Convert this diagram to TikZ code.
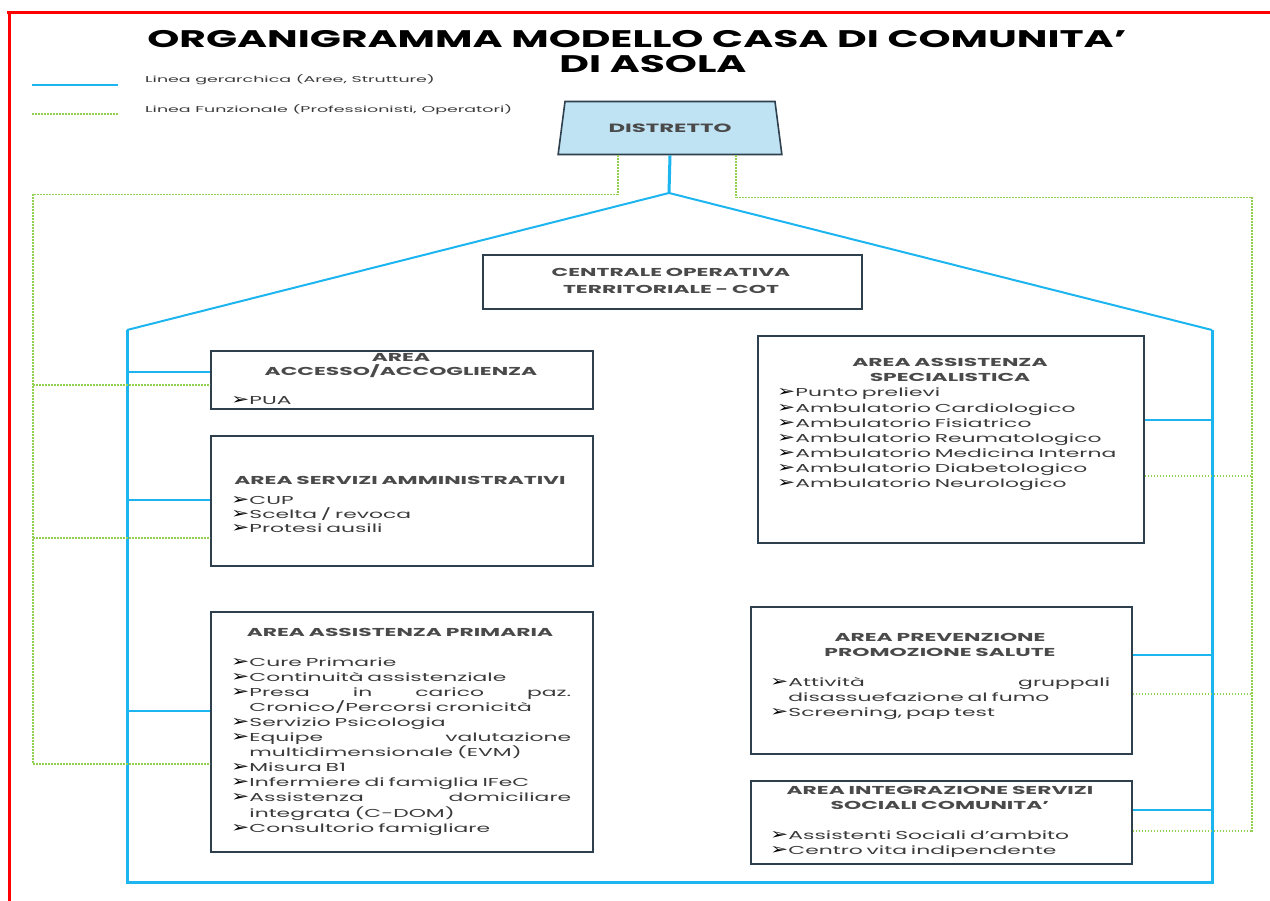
\documentclass[tikz,border=0pt]{standalone}
\usepackage{fontspec}
\setmainfont{Poppins}
\newfontfamily\wide{Poppins}[FakeStretch=1.9]
\newfontfamily\widetitle{Poppins}[FakeStretch=1.7]
\newfontfamily\widelegend{Poppins}[FakeStretch=2.05]
\newfontfamily\bulf{DejaVu Sans}[FakeStretch=1.45]
\usetikzlibrary{shapes.geometric,calc}
\definecolor{hblue}{HTML}{1CB5F0}
\definecolor{fgreen}{HTML}{92D050}
\definecolor{boxc}{HTML}{2E3F4D}
\definecolor{distfill}{HTML}{BFE3F3}
\definecolor{txt}{HTML}{3A3A3A}
\definecolor{ttlc}{HTML}{4A4A4A}
\newcommand{\bl}{{\bulf\color{black}\fontsize{15}{15}\selectfont ➢}}
\newcommand{\nb}{\phantom{\bl}}
\tikzset{
  area/.style={draw=boxc, line width=1.6pt, inner sep=0pt, anchor=north west},
  hier/.style={draw=hblue, line width=3pt},
  hierthin/.style={draw=hblue, line width=2pt},
  func/.style={draw=fgreen, line width=1.3pt, dash pattern=on 1.8pt off 1.2pt},
  ttl/.style={font=\wide\bfseries\fontsize{11.5}{15}\selectfont, text=ttlc, inner sep=0pt, anchor=base, align=center, text width=380pt},
  item/.style={font=\wide\fontsize{11.5}{15.1}\selectfont, text=txt, inner sep=0pt, anchor=base west, align=left, text width=370pt},
  legtext/.style={font=\widelegend\fontsize{8.5}{9}\selectfont, text=txt, inner sep=0pt, anchor=base west},
}
\begin{document}
\begin{tikzpicture}[x=1pt,y=-1pt]
\useasboundingbox (0,0) rectangle (1270,901);
% red frame
\draw[red, line width=3pt] (7,13) -- (1270,13);
\draw[red, line width=3pt] (9,12) -- (9,901);
% title
\node[font=\widetitle\bfseries\fontsize{24}{26}\selectfont, inner sep=0pt, anchor=base] (t1) at (637,48) {ORGANIGRAMMA MODELLO CASA DI COMUNITA’};
\node[font=\widetitle\bfseries\fontsize{24}{26}\selectfont, inner sep=0pt, anchor=base] (t2) at (653,73) {DI ASOLA};
% legend
\coordinate (lb1) at (32,85); \coordinate (lb2) at (118,85);
\coordinate (lg1) at (32,114); \coordinate (lg2) at (118,114);
\draw[hierthin] (lb1) -- (lb2);
\draw[func] (lg1) -- (lg2);
\node[legtext] (leg1) at (145,83) {Linea gerarchica (Aree, Strutture)};
\node[legtext] (leg2) at (145,113) {Linea Funzionale (Professionisti, Operatori)};
% distretto
\node[trapezium, trapezium left angle=65, trapezium right angle=65, trapezium stretches=true,
  minimum width=224pt, minimum height=53pt, draw=boxc, line width=1.6pt, fill=distfill,
  font=\wide\bfseries\fontsize{12}{12}\selectfont, text=ttlc, inner sep=0pt] (dist) at (670,128) {DISTRETTO};
% frame (hierarchy)
\coordinate (apex) at (669,193);
\coordinate (fl) at (127,330);
\coordinate (fr) at (1212,330);
\coordinate (bl) at (127,882);
\coordinate (br) at (1212,882);
\draw[hier] (dist.south) -- (apex);
\draw[hierthin] (fl) -- (apex) -- (fr);
\draw[hier, line join=miter] (fl) -- (bl) -- (br) -- (fr);
% functional lines
\coordinate (gl) at (33,193);
\coordinate (gr) at (1252,196);
\draw[func] ($(dist.south)+(-52,0)$) -- ++(0,39) -| (33,764);
\draw[func] ($(dist.south)+(66,0)$) -- ++(0,42) -| (1252,832);
% COT
\node[area, minimum width=379pt, minimum height=54pt] (cot) at (482,254) {};
\node[ttl] (cott) at (671,277) {CENTRALE OPERATIVA\\[2pt]TERRITORIALE - COT};
% left boxes
\node[area, minimum width=382pt, minimum height=58pt] (acc) at (210,350) {};
\node[area, minimum width=382pt, minimum height=130pt] (amm) at (210,435) {};
\node[area, minimum width=382pt, minimum height=240pt] (pri) at (210,611) {};
% right boxes
\node[area, minimum width=386pt, minimum height=207pt] (spe) at (757,335) {};
\node[area, minimum width=381pt, minimum height=147pt] (pre) at (750,606) {};
\node[area, minimum width=381pt, minimum height=83pt] (soc) at (750,780) {};
% texts left
\node[ttl] (acct) at (401,362) {AREA\\[-1pt]ACCESSO/ACCOGLIENZA};
\node[item] (acci) at (231,405) {\bl PUA};
\node[ttl] (ammt) at (400,484) {AREA SERVIZI AMMINISTRATIVI};
\node[item] (ammi) at (231,504) {\bl CUP\\[-1pt]\bl Scelta / revoca\\[-1pt]\bl Protesi ausili};
\node[ttl] (prit) at (400,636) {AREA ASSISTENZA PRIMARIA};
\node[item] (prii) at (231,666) {\bl Cure Primarie\\
\bl Continuità assistenziale\\
\makebox[340pt][s]{\bl Presa\hfill in\hfill carico\hfill paz.}\\
\nb Cronico/Percorsi cronicità\\
\bl Servizio Psicologia\\
\makebox[340pt][s]{\bl Equipe\hfill valutazione}\\
\nb multidimensionale (EVM)\\
\bl Misura B1\\
\bl Infermiere di famiglia IFeC\\
\makebox[340pt][s]{\bl Assistenza\hfill domiciliare}\\
\nb integrata (C-DOM)\\
\bl Consultorio famigliare};
% texts right
\node[ttl] (spet) at (950,367) {AREA ASSISTENZA\\SPECIALISTICA};
\node[item] (spei) at (777,397) {\bl Punto prelievi\\
\bl Ambulatorio Cardiologico\\
\bl Ambulatorio Fisiatrico\\
\bl Ambulatorio Reumatologico\\
\bl Ambulatorio Medicina Interna\\
\bl Ambulatorio Diabetologico\\
\bl Ambulatorio Neurologico};
\node[ttl] (pret) at (940,641) {AREA PREVENZIONE\\PROMOZIONE SALUTE};
\node[item] (prei) at (770,686) {\makebox[340pt][s]{\bl Attività\hfill gruppali}\\
\nb disassuefazione al fumo\\
\bl Screening, pap test};
\node[ttl] (soct) at (940,794) {AREA INTEGRAZIONE SERVIZI\\SOCIALI COMUNITA’};
\node[item] (soci) at (770,839) {\bl Assistenti Sociali d’ambito\\[0.4pt]
\bl Centro vita indipendente};
% hierarchical connectors
\draw[hierthin] (fl |- 0,372) -- (acc.west |- 0,372);
\draw[hierthin] (fl |- 0,500) -- (amm.west |- 0,500);
\draw[hierthin] (fl |- 0,711) -- (pri.west |- 0,711);
\draw[hierthin] (spe.east |- 0,420) -- (fr |- 0,420);
\draw[hierthin] (pre.east |- 0,655) -- (fr |- 0,655);
\draw[hierthin] (soc.east |- 0,810) -- (fr |- 0,810);
% functional connectors
\draw[func] (gl |- 0,385) -- (acc.west |- 0,385);
\draw[func] (gl |- 0,538) -- (amm.west |- 0,538);
\draw[func] (gl |- 0,764) -- (pri.west |- 0,764);
\draw[func] (spe.east |- 0,476) -- (gr |- 0,476);
\draw[func] (pre.east |- 0,694) -- (gr |- 0,694);
\draw[func] (soc.east |- 0,831) -- (gr |- 0,831);
\end{tikzpicture}
\end{document}
